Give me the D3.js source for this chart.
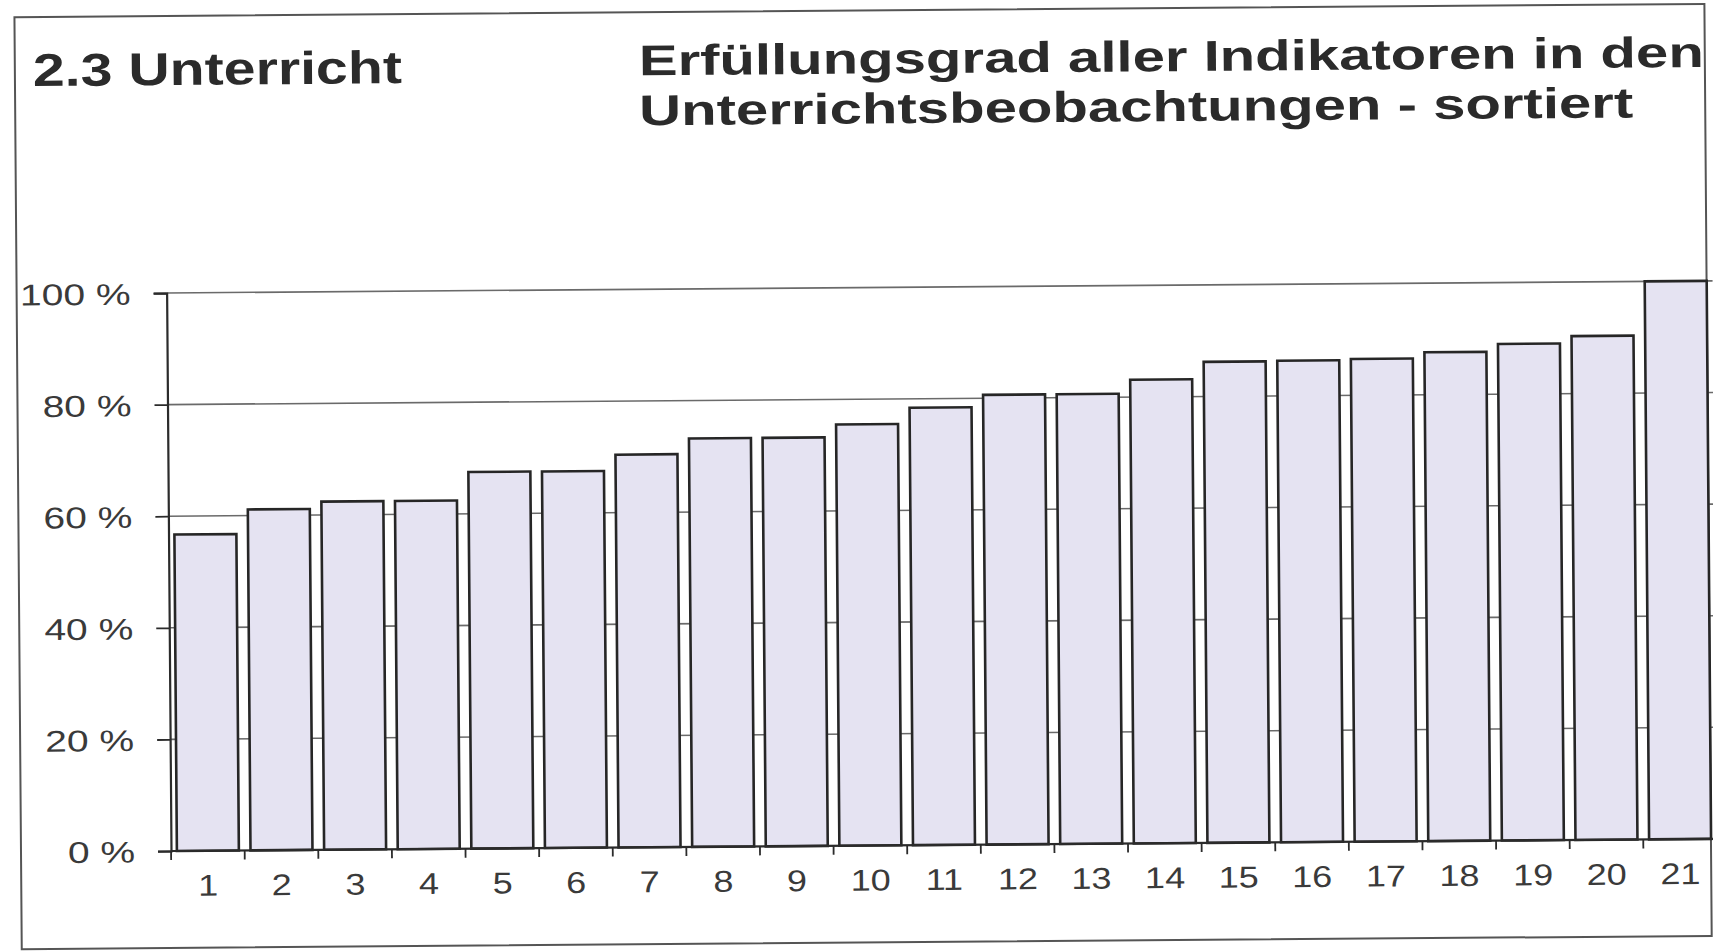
<!DOCTYPE html>
<html>
<head>
<meta charset="utf-8">
<script src="https://cdn.jsdelivr.net/npm/d3@7"></script>
<style>
  body { margin: 0; background: #fff; }
  svg { display: block; }
</style>
</head>
<body>
<div id="chart"></div>
<script>
// data
var categories = ["1", "2", "3", "4", "5", "6", "7", "8", "9", "10", "11",
                  "12", "13", "14", "15", "16", "17", "18", "19", "20", "21"];
var values = [56.7, 61.1, 62.4, 62.4, 67.5, 67.5, 70.4, 73.2, 73.2, 75.5, 78.4,
              80.6, 80.6, 83.1, 86.2, 86.3, 86.5, 87.6, 89.0, 90.3, 100];
var yTicks = [0, 20, 40, 60, 80, 100];
var sectionTitle = "2.3 Unterricht";
var titleLines = ["Erfüllungsgrad aller Indikatoren in den",
                  "Unterrichtsbeobachtungen - sortiert"];

// layout
var width = 1713, height = 952;
var plot = { left: 171, right: 1717, top: 293, bottom: 851 };
var tilt = -0.45;   // the scan is slightly rotated
var font = "'Liberation Sans', Arial, sans-serif";
var ink = "#2b2b2b";

var svg = d3.select("#chart").append("svg")
    .attr("width", width)
    .attr("height", height);

var g = svg.append("g")
    .attr("transform", "rotate(" + tilt + "," + plot.left + "," + plot.bottom + ")");

// page frame
g.append("rect")
  .attr("x", 21).attr("y", 16)
  .attr("width", 1690).attr("height", 932)
  .attr("fill", "none")
  .attr("stroke", "#555")
  .attr("stroke-width", 2);

// titles (stretched like the scan)
g.append("text")
  .attr("x", 39).attr("y", 85)
  .attr("font-family", font).attr("font-weight", "bold")
  .attr("font-size", 46).attr("fill", ink)
  .attr("textLength", 369).attr("lengthAdjust", "spacingAndGlyphs")
  .text(sectionTitle);

var titleWidths = [1065, 994];
g.selectAll(".title-line")
  .data(titleLines).enter()
  .append("text")
  .attr("class", "title-line")
  .attr("x", 645)
  .attr("y", function(d, i) { return 79 + i * 50; })
  .attr("font-family", font).attr("font-weight", "bold")
  .attr("font-size", 43).attr("fill", ink)
  .attr("textLength", function(d, i) { return titleWidths[i]; })
  .attr("lengthAdjust", "spacingAndGlyphs")
  .text(function(d) { return d; });

// scales
var x = d3.scaleBand()
  .domain(categories)
  .range([plot.left, plot.right])
  .paddingInner(0.158)
  .paddingOuter(0.08);

var y = d3.scaleLinear()
  .domain([0, 100])
  .range([plot.bottom, plot.top]);

// gridlines behind the bars
g.selectAll(".grid")
  .data(yTicks.slice(1)).enter()
  .append("line")
  .attr("class", "grid")
  .attr("x1", plot.left).attr("x2", plot.right)
  .attr("y1", function(d) { return y(d); })
  .attr("y2", function(d) { return y(d); })
  .attr("stroke", "#6a6a6a")
  .attr("stroke-width", 1.6);

// bars
g.selectAll(".bar")
  .data(values).enter()
  .append("rect")
  .attr("class", "bar")
  .attr("x", function(d, i) { return x(categories[i]); })
  .attr("y", function(d) { return y(d); })
  .attr("width", x.bandwidth())
  .attr("height", function(d) { return y(0) - y(d); })
  .attr("fill", "#e5e3f2")
  .attr("stroke", "#262626")
  .attr("stroke-width", 2.6);

// stretch axis labels a bit, the scan is wider than tall
function widen(sel, k) {
  sel.each(function() {
    var w = this.getComputedTextLength();
    d3.select(this).attr("textLength", w * k).attr("lengthAdjust", "spacingAndGlyphs");
  });
}

// y axis
var yAxis = g.append("g")
  .attr("transform", "translate(" + plot.left + ",0)")
  .call(d3.axisLeft(y)
    .tickValues(yTicks)
    .tickSize(13)
    .tickPadding(23)
    .tickFormat(function(d) { return d + " %"; }));

yAxis.select(".domain").attr("stroke", ink).attr("stroke-width", 2.2);
yAxis.selectAll(".tick line").attr("stroke", ink).attr("stroke-width", 1.8);
yAxis.selectAll(".tick text")
  .attr("font-family", font).attr("font-size", 30)
  .attr("fill", "#3a3a3a")
  .attr("dy", "0.36em")
  .call(widen, 1.3);

// x axis: ticks sit in the gaps, labels under the bars
var gapOffset = x.step() * x.paddingInner() / 2;
var boundaries = categories.map(function(c) { return x(c) - gapOffset; })
  .concat([x(categories[categories.length - 1]) + x.bandwidth() + gapOffset]);

var xAxis = g.append("g").attr("class", "x-axis");

xAxis.append("line")
  .attr("x1", plot.left).attr("x2", plot.right)
  .attr("y1", plot.bottom).attr("y2", plot.bottom)
  .attr("stroke", ink).attr("stroke-width", 2.2);

xAxis.selectAll(".xtick")
  .data(boundaries).enter()
  .append("line")
  .attr("class", "xtick")
  .attr("x1", function(d) { return d; }).attr("x2", function(d) { return d; })
  .attr("y1", plot.bottom).attr("y2", plot.bottom + 9)
  .attr("stroke", ink).attr("stroke-width", 1.8);

xAxis.selectAll(".xlabel")
  .data(categories).enter()
  .append("text")
  .attr("class", "xlabel")
  .attr("x", function(d) { return x(d) + x.bandwidth() / 2; })
  .attr("y", plot.bottom + 45)
  .attr("text-anchor", "middle")
  .attr("font-family", font).attr("font-size", 30)
  .attr("fill", "#3a3a3a")
  .text(function(d) { return d; })
  .call(widen, 1.2);
</script>
</body>
</html>
